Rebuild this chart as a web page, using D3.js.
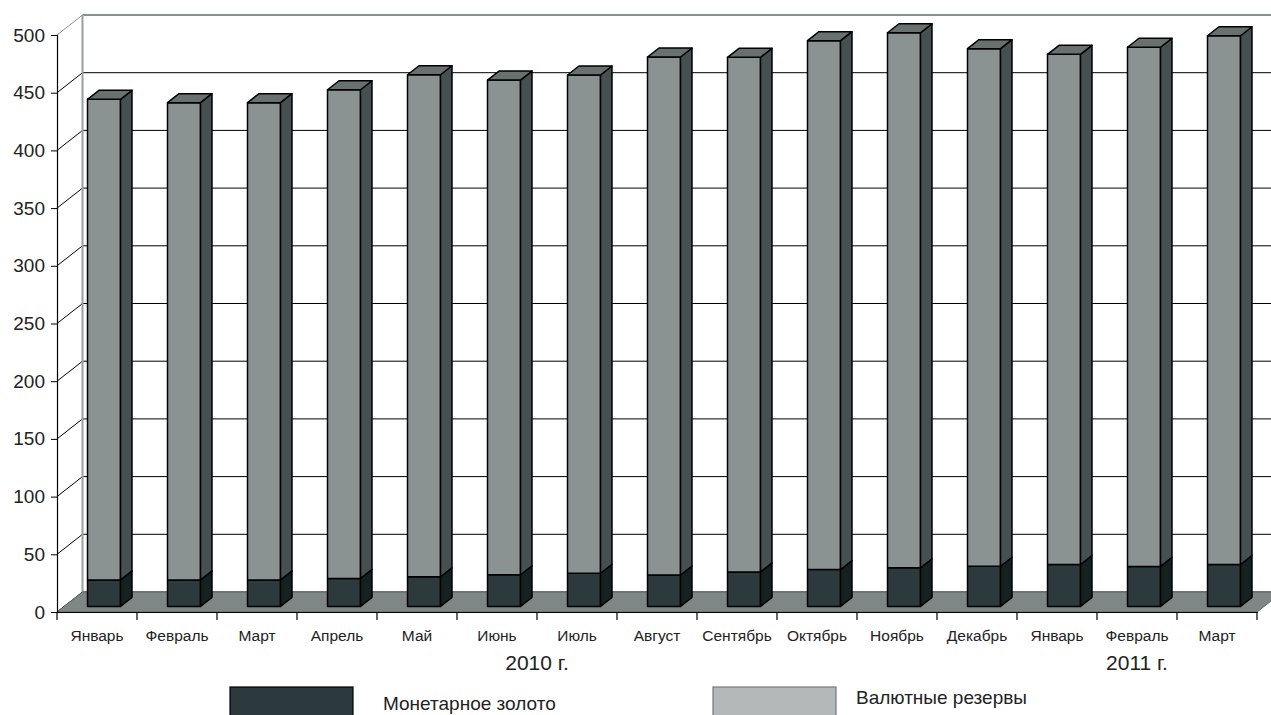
<!DOCTYPE html>
<html>
<head>
<meta charset="utf-8">
<script src="https://cdn.jsdelivr.net/npm/d3@7"></script>
<style>
  html, body { margin: 0; padding: 0; background: #ffffff; }
  svg { display: block; font-family: "Liberation Sans", Arial, sans-serif; }
</style>
</head>
<body>
<svg id="chart" width="1271" height="715"></svg>
<script>
// Monthly reserves, billions of US dollars
const months = ["Январь", "Февраль", "Март", "Апрель", "Май", "Июнь", "Июль",
  "Август", "Сентябрь", "Октябрь", "Ноябрь", "Декабрь", "Январь", "Февраль", "Март"];
const gold = [23.0, 23.0, 23.0, 24.3, 25.8, 27.5, 28.8, 27.3, 30.0, 32.0, 33.6, 34.9, 36.4, 34.7, 36.4];
const currency = [416.5, 413.6, 413.6, 423.5, 435.0, 428.7, 431.8, 448.9, 445.9, 458.3, 463.6, 448.5, 442.1, 449.9, 458.2];
const yTicks = [0, 50, 100, 150, 200, 250, 300, 350, 400, 450, 500];
const yearGroups = [
  { label: "2010 г.", from: 0, to: 11 },
  { label: "2011 г.", from: 12, to: 14 }
];
const seriesNames = ["Монетарное золото", "Валютные резервы"];

const svg = d3.select("#chart");

// front plane scales
const x = d3.scaleBand().domain(d3.range(months.length)).range([57, 1257]).padding(0);
const y = d3.scaleLinear().domain([0, 500]).range([612, 35]);

// oblique depth vector of the 3D box
const DX = 25.5, DY = -20;
const P = (px, py, d) => [px + DX * d, py + DY * d];

// ---- walls ----
const wall = svg.append("g");
// back wall gridlines
yTicks.forEach(t => {
  const [bx, by] = P(57, y(t), 1);
  wall.append("line")
    .attr("x1", bx).attr("y1", by).attr("x2", 1271).attr("y2", by)
    .attr("stroke", t === 500 ? "#8a8f8f" : "#000").attr("stroke-width", t === 500 ? 2 : 1);
  // left wall diagonals
  wall.append("line")
    .attr("x1", 57).attr("y1", y(t)).attr("x2", bx).attr("y2", by)
    .attr("stroke", t === 500 ? "#8a8f8f" : "#000").attr("stroke-width", 1);
});
// back wall left edge
{
  const [tx, ty] = P(57, y(500), 1);
  const [bx, by] = P(57, y(0), 1);
  wall.append("line").attr("x1", tx).attr("y1", ty).attr("x2", bx).attr("y2", by)
    .attr("stroke", "#9aa0a0").attr("stroke-width", 2);
}

// ---- floor ----
{
  const f0 = P(57, y(0), 0), f1 = P(1257, y(0), 0), f2 = P(1257, y(0), 1), f3 = P(57, y(0), 1);
  svg.append("polygon")
    .attr("points", [f0, f1, f2, f3].map(p => p.join(",")).join(" "))
    .attr("fill", "#7e8686").attr("stroke", "#5d6565").attr("stroke-width", 1);
}

// ---- bars ----
const dFront = 0.275, dBack = 0.725, barW = 33;
const palette = [
  { front: "#2c3a3d", side: "#142120", top: "#3a4749" },
  { front: "#8b9292", side: "#465050", top: "#687070" }
];

function prism(g, cx, v0, v1, col, withTop) {
  const xl = cx - barW / 2, xr = cx + barW / 2;
  const fl0 = P(xl, y(v0), dFront), fr0 = P(xr, y(v0), dFront);
  const fl1 = P(xl, y(v1), dFront), fr1 = P(xr, y(v1), dFront);
  const br0 = P(xr, y(v0), dBack), br1 = P(xr, y(v1), dBack), bl1 = P(xl, y(v1), dBack);
  const poly = (pts, fill) => g.append("polygon")
    .attr("points", pts.map(p => p.join(",")).join(" "))
    .attr("fill", fill).attr("stroke", "#000").attr("stroke-width", 1.5)
    .attr("stroke-linejoin", "round");
  poly([fl0, fr0, fr1, fl1], col.front);
  poly([fr0, br0, br1, fr1], col.side);
  if (withTop) poly([fl1, fr1, br1, bl1], col.top);
}

const bars = svg.append("g");
months.forEach((m, i) => {
  const cx = x(i) + x.bandwidth() / 2;
  const g = bars.append("g");
  prism(g, cx, 0, gold[i], palette[0], false);
  prism(g, cx, gold[i], gold[i] + currency[i], palette[1], true);
});

// ---- axes ----
const yAxis = d3.axisLeft(y).tickValues(yTicks).tickSize(6).tickPadding(6);
const ya = svg.append("g").attr("transform", "translate(57,0)").call(yAxis);
ya.select(".domain").attr("stroke", "#000").attr("stroke-width", 1.2);
ya.selectAll(".tick line").attr("stroke", "#000");
ya.selectAll("text").attr("font-size", 19).attr("fill", "#222")
  .attr("font-family", "'Liberation Sans', Arial, sans-serif");

const xAxis = d3.axisBottom(x).tickSize(0).tickPadding(18).tickFormat(i => months[i]);
const xa = svg.append("g").attr("transform", `translate(0,${y(0)})`).call(xAxis);
xa.select(".domain").attr("stroke", "#000").attr("stroke-width", 1.2);
xa.selectAll("text").attr("font-size", 15.5).attr("fill", "#222")
  .attr("font-family", "'Liberation Sans', Arial, sans-serif");
// tick marks between categories
d3.range(months.length + 1).forEach(k => {
  const px = k < months.length ? x(k) : x(months.length - 1) + x.bandwidth();
  xa.append("line").attr("x1", px).attr("x2", px).attr("y1", 0).attr("y2", 8)
    .attr("stroke", "#000").attr("stroke-width", 1.2);
});

// year captions
yearGroups.forEach(gp => {
  const cx = (x(gp.from) + x(gp.to) + x.bandwidth()) / 2 - x.bandwidth() / 2 + (gp.from === gp.to ? 0 : 0);
  const mid = (x(gp.from) + x.bandwidth() / 2 + x(gp.to) + x.bandwidth() / 2) / 2;
  svg.append("text").attr("x", mid).attr("y", 670)
    .attr("text-anchor", "middle").attr("font-size", 21).attr("fill", "#222")
    .text(gp.label);
});

// ---- legend ----
const legend = [
  { name: seriesNames[0], fill: "#2c3a3d", stroke: "#000", bx: 230, tx: 383, ty: 710 },
  { name: seriesNames[1], fill: "#b4b8b9", stroke: "#777", bx: 713, tx: 856, ty: 704 }
];
legend.forEach(l => {
  svg.append("rect").attr("x", l.bx).attr("y", 687).attr("width", 123).attr("height", 40)
    .attr("fill", l.fill).attr("stroke", l.stroke).attr("stroke-width", 1.2);
  svg.append("text").attr("x", l.tx).attr("y", l.ty).attr("font-size", 19).attr("fill", "#222")
    .text(l.name);
});
</script>
</body>
</html>
